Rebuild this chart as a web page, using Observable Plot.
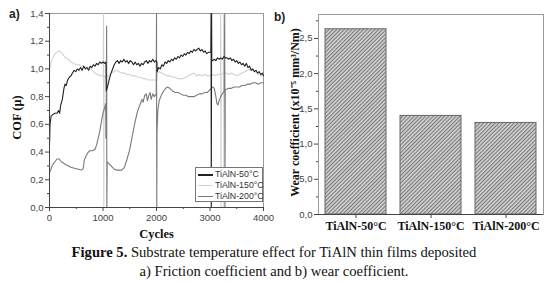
<!DOCTYPE html>
<html><head><meta charset="utf-8">
<script src="https://cdn.jsdelivr.net/npm/d3@7"></script>
<script src="https://cdn.jsdelivr.net/npm/@observablehq/plot@0.6"></script>
<style>
body{margin:0;background:#fff;}
#wrap{position:relative;width:548px;height:283px;overflow:hidden;background:#fff;}
.abs{position:absolute;}
.panel{font-family:"Liberation Sans",Arial,sans-serif;font-weight:bold;font-size:12px;color:#222;}
#legend{left:195px;top:167px;width:68px;height:35px;border:1px solid #777;background:#fff;box-sizing:border-box;font-family:"Liberation Sans",Arial,sans-serif;font-size:8.8px;color:#333;}
#legend div{position:absolute;left:0;height:11px;line-height:11px;}
#legend span.s{position:absolute;left:2px;top:5px;width:15px;height:0;}
#legend span.t{position:absolute;left:19px;top:0;white-space:nowrap;}
#caption{left:0;top:243px;width:548px;text-align:center;font-family:"Liberation Serif","Times New Roman",serif;font-size:14.6px;line-height:19px;color:#111;}
</style>
</head><body>
<div id="wrap">
  <div id="left" class="abs" style="left:0;top:0"></div>
  <div id="right" class="abs" style="left:270px;top:0"></div>
  <div class="abs panel" style="left:9px;top:7px">a)</div>
  <div class="abs panel" style="left:274px;top:10px">b)</div>
  <div id="legend" class="abs"></div>
  <div id="caption" class="abs"><b>Figure 5.</b> Substrate temperature effect for TiAlN thin films deposited<br>a) Friction coefficient and b) wear coefficient.</div>
</div>
<script>
// ---- Panel a) : COF vs cycles ----
const seriesNames = ["TiAlN-50°C", "TiAlN-150°C", "TiAlN-200°C"];
const seriesColors = ["#222222", "#d2d2d2", "#7a7a7a"];

const cof50 = [[0,0.45],[10,0.6],[30,0.66],[60,0.67],[100,0.68],[140,0.68],[170,0.70],[190,0.68],[210,0.74],[240,0.78],[270,0.86],[290,0.89],[310,0.88],[340,0.92],[370,0.94],[400,0.95],[430,0.97],[460,0.99],[490,0.98],[520,1.00],[550,0.99],[580,1.01],[610,0.99],[640,1.02],[670,1.00],[700,1.01],[730,0.99],[760,1.02],[790,1.01],[820,1.03],[850,1.02],[880,1.04],[910,1.03],[940,1.05],[970,1.04],[1000,1.05],[1030,1.04],[1055,1.05],[1062,0.84],[1090,0.88],[1120,0.93],[1150,0.97],[1180,1.00],[1210,1.03],[1240,1.05],[1270,1.06],[1300,1.04],[1330,1.06],[1360,1.05],[1390,1.07],[1420,1.05],[1450,1.06],[1480,1.04],[1510,1.06],[1540,1.05],[1570,1.03],[1600,1.05],[1630,1.03],[1660,1.04],[1690,1.02],[1720,1.04],[1750,1.03],[1780,1.05],[1810,1.06],[1840,1.04],[1870,1.06],[1900,1.05],[1930,1.07],[1960,1.05],[1990,1.06],[2008,1.05],[2012,0.98],[2040,1.01],[2070,1.00],[2100,1.03],[2130,1.02],[2160,1.05],[2190,1.04],[2220,1.06],[2250,1.05],[2280,1.07],[2310,1.06],[2340,1.08],[2370,1.07],[2400,1.09],[2430,1.08],[2460,1.10],[2490,1.09],[2520,1.11],[2550,1.10],[2580,1.12],[2610,1.11],[2640,1.13],[2670,1.12],[2700,1.14],[2730,1.13],[2760,1.14],[2790,1.15],[2820,1.13],[2850,1.14],[2880,1.12],[2910,1.13],[2940,1.11],[2970,1.12],[3015,1.12],[3020,1.4],[3024,0],[3030,1.4],[3034,1.06],[3050,1.06],[3080,1.07],[3110,1.06],[3140,1.08],[3170,1.07],[3200,1.08],[3230,1.07],[3260,1.09],[3290,1.08],[3320,1.08],[3350,1.07],[3380,1.08],[3410,1.06],[3440,1.07],[3470,1.05],[3500,1.06],[3530,1.04],[3560,1.05],[3590,1.03],[3620,1.04],[3650,1.02],[3680,1.04],[3710,1.01],[3740,1.02],[3770,0.99],[3800,1.00],[3830,0.98],[3860,0.99],[3890,0.97],[3920,0.98],[3950,0.96],[3980,0.97],[4000,0.95]];

const cof150 = [[0,0.98],[30,1.05],[60,1.08],[100,1.11],[140,1.12],[180,1.13],[220,1.12],[260,1.10],[300,1.08],[350,1.07],[400,1.05],[450,1.04],[500,1.03],[550,1.03],[600,1.02],[650,1.02],[700,1.01],[750,1.01],[800,0.99],[850,0.97],[900,0.96],[950,0.95],[1005,0.95],[1010,1.4],[1015,0],[1020,0.95],[1050,0.94],[1100,0.95],[1150,0.97],[1200,0.98],[1250,0.99],[1300,0.98],[1350,0.97],[1400,0.97],[1450,0.96],[1500,0.96],[1550,0.95],[1600,0.95],[1650,0.94],[1700,0.94],[1750,0.93],[1800,0.93],[1850,0.92],[1900,0.92],[1950,0.92],[2005,0.92],[2012,0.97],[2050,0.98],[2100,0.97],[2150,0.96],[2200,0.95],[2250,0.95],[2300,0.94],[2350,0.94],[2400,0.93],[2450,0.93],[2500,0.93],[2550,0.94],[2600,0.95],[2650,0.96],[2700,0.97],[2750,0.95],[2800,0.96],[2850,0.95],[2900,0.96],[2950,0.95],[3000,0.95],[3050,0.96],[3100,0.95],[3150,0.96],[3195,0.96],[3200,1.4],[3205,0],[3210,0.96],[3250,0.97],[3255,1.4],[3260,0],[3265,0.97],[3300,0.97],[3350,0.96],[3400,0.97],[3450,0.96],[3500,0.95],[3550,0.96],[3600,0.97],[3650,0.98],[3700,0.99],[3750,1.00],[3800,0.99],[3850,0.98],[3900,0.96],[3950,0.95],[4000,0.95]];

const cof200 = [[0,0.25],[30,0.28],[60,0.31],[100,0.33],[140,0.35],[180,0.35],[220,0.33],[300,0.31],[400,0.29],[500,0.28],[600,0.27],[630,0.28],[650,0.34],[680,0.37],[710,0.39],[750,0.41],[800,0.41],[850,0.42],[880,0.45],[910,0.50],[940,0.55],[970,0.62],[1000,0.68],[1030,0.72],[1050,0.75],[1055,0.5],[1062,0.74],[1068,1.31],[1072,0],[1078,0.33],[1100,0.32],[1150,0.30],[1200,0.28],[1250,0.27],[1300,0.27],[1350,0.27],[1400,0.29],[1450,0.35],[1500,0.42],[1550,0.52],[1600,0.62],[1650,0.70],[1700,0.75],[1730,0.78],[1750,0.76],[1780,0.81],[1810,0.82],[1830,0.77],[1850,0.80],[1880,0.83],[1900,0.78],[1930,0.82],[1960,0.80],[1995,0.82],[2000,1.4],[2005,0],[2010,0.55],[2025,0.70],[2050,0.77],[2100,0.82],[2150,0.85],[2200,0.87],[2250,0.86],[2300,0.84],[2350,0.83],[2400,0.83],[2450,0.82],[2500,0.81],[2550,0.81],[2600,0.80],[2650,0.80],[2700,0.80],[2750,0.81],[2800,0.82],[2850,0.82],[2900,0.83],[2950,0.83],[3000,0.85],[3050,0.87],[3080,0.86],[3110,0.80],[3130,0.75],[3150,0.74],[3170,0.77],[3200,0.80],[3230,0.82],[3265,0.84],[3275,1.4],[3280,0],[3285,0.85],[3350,0.86],[3400,0.86],[3450,0.87],[3500,0.87],[3550,0.87],[3600,0.88],[3650,0.88],[3700,0.89],[3750,0.89],[3800,0.90],[3850,0.90],[3900,0.89],[3950,0.90],[4000,0.90]];

const cofXTicks = [0, 1000, 2000, 3000, 4000];
const cofXMinor = [500, 1500, 2500, 3500];
const cofYTicks = [0, 0.2, 0.4, 0.6, 0.8, 1.0, 1.2, 1.4];
const cofYMinor = [0.1, 0.3, 0.5, 0.7, 0.9, 1.1, 1.3];

// ---- Panel b) : wear coefficient ----
const wearCats = ["TiAlN-50°C", "TiAlN-150°C", "TiAlN-200°C"];
const wearValues = [2.63, 1.40, 1.30];
const wearYTicks = [0, 0.5, 1.0, 1.5, 2.0, 2.5];
const wearYTickLabels = ["0,0", "5,0", "1,0", "1,5", "2,0", "2,5"];
const wearYMinor = [0.25, 0.75, 1.25, 1.75, 2.25, 2.75];

const comma = d => d.toFixed(1).replace(".", ",");
const sans = "'Liberation Sans', Arial, sans-serif";
const serif = "'Liberation Serif', 'Times New Roman', serif";

const rows = [
  ...cof150.map(([c, v]) => ({c, v, s: seriesNames[1]})),
  ...cof200.map(([c, v]) => ({c, v, s: seriesNames[2]})),
  ...cof50.map(([c, v]) => ({c, v, s: seriesNames[0]}))
];

const left = Plot.plot({
  width: 282, height: 242,
  marginLeft: 49, marginRight: 19, marginTop: 13, marginBottom: 35,
  style: {fontFamily: sans, background: "transparent"},
  x: {domain: [0, 4000], label: null},
  y: {domain: [0, 1.4], label: null},
  color: {domain: seriesNames, range: seriesColors},
  marks: [
    Plot.frame({stroke: "#9a9a9a"}),
    Plot.line(rows, {x: "c", y: "v", z: "s", stroke: "s", strokeWidth: 1.1}),
    Plot.ruleX([0], {stroke: "#444"}),
    Plot.ruleY([0], {stroke: "#444"}),
    Plot.axisX({ticks: cofXTicks, tickSize: 4, tickFormat: d => String(d), fontSize: 9.5, fill: "#444", stroke: "#444", tickPadding: 3}),
    Plot.axisX({ticks: cofXMinor, tickSize: 2, tickFormat: () => "", stroke: "#444"}),
    Plot.axisY({ticks: cofYTicks, tickSize: 4, tickFormat: comma, fontSize: 9.5, fill: "#444", stroke: "#444", tickPadding: 2}),
    Plot.axisY({ticks: cofYMinor, tickSize: 2, tickFormat: () => "", stroke: "#444"}),
    Plot.text(["COF (μ)"], {frameAnchor: "left", textAnchor: "middle", lineAnchor: "middle", dx: -33, dy: 7, rotate: -90, fontFamily: serif, fontWeight: "bold", fontSize: 12.5, fill: "#111"}),
    Plot.text(["Cycles"], {frameAnchor: "bottom", textAnchor: "middle", lineAnchor: "middle", dy: 26, fontFamily: serif, fontWeight: "bold", fontSize: 12.5, fill: "#111"})
  ]
});
document.getElementById("left").appendChild(left);

const right = Plot.plot({
  width: 278, height: 240,
  marginLeft: 48, marginRight: 5, marginTop: 14, marginBottom: 26,
  style: {fontFamily: sans, background: "transparent"},
  x: {domain: wearCats, paddingInner: 0.19, paddingOuter: 0.08, label: null},
  y: {domain: [0, 2.84], label: null},
  marks: [
    Plot.barY(wearCats, {x: d => d, y: (d, i) => wearValues[i], fill: "url(#hatch)", stroke: "#666", strokeWidth: 1}),
    Plot.frame({stroke: "#9a9a9a"}),
    Plot.ruleY([0], {stroke: "#444"}),
    Plot.axisY({ticks: wearYTicks, tickSize: 4, tickFormat: d => wearYTickLabels[wearYTicks.indexOf(d)], fontSize: 9.5, fill: "#444", stroke: "#444", tickPadding: 2}),
    Plot.axisY({ticks: wearYMinor, tickSize: 2, tickFormat: () => "", stroke: "#444"}),
    Plot.axisX({tickSize: 4, fontFamily: serif, fontWeight: "bold", fontSize: 12, fill: "#111", stroke: "#444", tickPadding: 3}),
    Plot.text(["Wear coefficient (x10⁻⁵ mm³/Nm)"], {frameAnchor: "left", textAnchor: "middle", lineAnchor: "middle", dx: -23, dy: -2, rotate: -90, fontFamily: serif, fontWeight: "bold", fontSize: 12, fill: "#111"})
  ]
});
// hatch pattern definition
const ns = "http://www.w3.org/2000/svg";
const defs = document.createElementNS(ns, "defs");
defs.innerHTML = '<pattern id="hatch" patternUnits="userSpaceOnUse" width="2.7" height="2.7" patternTransform="rotate(45)">' +
  '<rect width="2.7" height="2.7" fill="#cdcdcd"/><line x1="0.5" y1="0" x2="0.5" y2="2.7" stroke="#707070" stroke-width="0.9"/></pattern>';
right.insertBefore(defs, right.firstChild);
document.getElementById("right").appendChild(right);

// legend for panel a
const lg = document.getElementById("legend");
seriesNames.forEach((n, i) => {
  const row = document.createElement("div");
  row.style.top = (1 + i * 11) + "px";
  row.style.width = "66px";
  row.innerHTML = `<span class="s" style="border-top:${i === 0 ? 2 : 1.5}px solid ${seriesColors[i]}"></span><span class="t">${n}</span>`;
  lg.appendChild(row);
});
</script>
</body></html>
